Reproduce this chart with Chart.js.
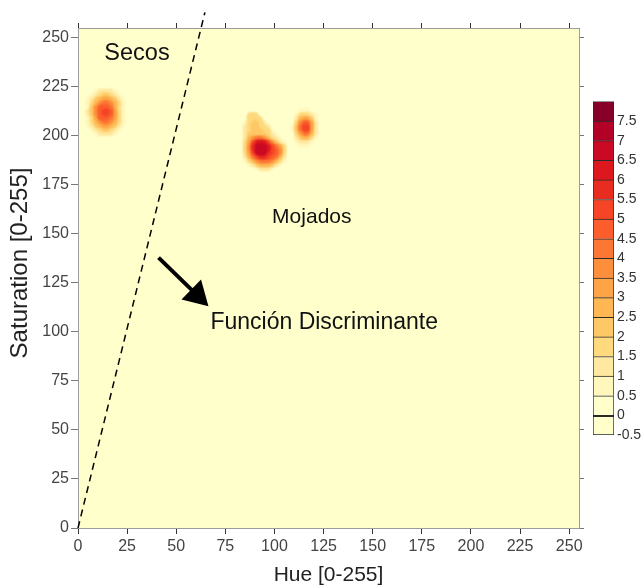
<!DOCTYPE html>
<html>
<head>
<meta charset="utf-8">
<script src="https://cdn.jsdelivr.net/npm/chart.js@4.4.1/dist/chart.umd.min.js"></script>
<style>
  html, body { margin: 0; padding: 0; background: #fff; }
  #wrap { position: relative; width: 641px; height: 588px; }
  #grafico { position: absolute; left: 0; top: 0; }
  #barra { position: absolute; left: 580px; top: 90px; }
</style>
</head>
<body>
<div id="wrap">
  <canvas id="grafico" width="641" height="588"></canvas>
  <canvas id="barra" width="61" height="360"></canvas>
</div>
<script>
// ticks
const hueTicks = [0, 25, 50, 75, 100, 125, 150, 175, 200, 225, 250];
const satTicks = [0, 25, 50, 75, 100, 125, 150, 175, 200, 225, 250];
const levels = [-0.5, 0, 0.5, 1, 1.5, 2, 2.5, 3, 3.5, 4, 4.5, 5, 5.5, 6, 6.5, 7, 7.5];

// densidad - mancha izquierda (secos)
const leftHue = [6, 8, 10, 12, 14, 16, 18, 20, 22];
const leftSat = [222, 220, 218, 216, 214, 212, 210, 208, 206, 204, 202];
const leftDensity = [
    [0, 0, 0.5, 1, 1, 1, 0.5, 0, 0],
    [0, 0.5, 1, 1.5, 2, 1.5, 1, 0.5, 0],
    [0.5, 1, 2, 2.5, 3, 2.5, 2, 1, 0.5],
    [0.5, 1.5, 2.5, 3.5, 4, 3.5, 2.5, 1.5, 0.5],
    [0.5, 2, 3.5, 4.5, 4.5, 4, 2.5, 1, 0.5],
    [1, 2, 3.5, 4.5, 5, 4.5, 3, 1.5, 0.5],
    [0.5, 1.5, 3, 4.5, 4.5, 4, 3, 1.5, 0.5],
    [0.5, 1.5, 2.5, 3.5, 4, 3.5, 2.5, 1.5, 0.5],
    [0.5, 1, 2, 2.5, 3, 2.5, 2, 1, 0.5],
    [0, 0.5, 1, 1.5, 2, 1.5, 1, 0.5, 0],
    [0, 0, 0.5, 1, 1, 1, 0.5, 0, 0]
];

// mancha central (mojados)
const midHue = [86, 88, 90, 92, 94, 96, 98, 100, 102, 104];
const midSat = [210, 208, 206, 204, 202, 200, 198, 196, 194, 192, 190, 188, 186, 184];
const midDensity = [
    [0, 1.5, 1.5, 0, 0, 0, 0, 0, 0, 0],
    [0, 1.5, 1.5, 1.5, 0, 0, 0, 0, 0, 0],
    [0.5, 1.5, 2, 1.5, 1, 0, 0, 0, 0, 0],
    [1, 1.5, 2, 1.5, 1.5, 1, 0, 0, 0, 0],
    [1, 1.5, 2, 2, 1.5, 1.5, 0.5, 0, 0, 0],
    [1, 2, 2, 2, 2, 1.5, 1, 0.5, 0, 0],
    [1, 2.5, 3.5, 4, 3.5, 2.5, 1.5, 1, 0.5, 0],
    [1.5, 3, 5, 6, 6, 5, 3.5, 2, 1, 0.5],
    [1.5, 3.5, 5.5, 6.5, 6.5, 6, 5, 4, 3, 1.5],
    [1.5, 3, 5, 6.5, 6.5, 5.5, 5, 4.5, 3.5, 1.5],
    [1, 2.5, 4, 5, 5.5, 5, 4.5, 4, 2.5, 1],
    [0.5, 1.5, 2.5, 3.5, 4, 4, 3.5, 2.5, 1.5, 0.5],
    [0, 0.5, 1, 2, 2.5, 2.5, 2, 1, 0.5, 0],
    [0, 0, 0, 0.5, 1, 1, 0.5, 0, 0, 0]
];

// mancha derecha
const rightHue = [110, 112, 114, 116, 118, 120];
const rightSat = [212, 210, 208, 206, 204, 202, 200, 198, 196];
const rightDensity = [
    [0, 0, 0.5, 0.5, 0, 0],
    [0, 0.5, 1.5, 1.5, 1, 0.5],
    [0, 1, 2.5, 3, 2, 0.5],
    [0, 1.5, 3.5, 4.5, 3, 1],
    [0.5, 2, 4, 5, 3, 1],
    [0, 1.5, 3, 4, 2.5, 1],
    [0, 1, 2, 2.5, 1.5, 0.5],
    [0, 0.5, 1, 1, 0.5, 0],
    [0, 0, 0.5, 0.5, 0, 0]
];

// funcion discriminante
const boundaryHue = [0, 64.6];
const boundarySat = [0, 263];

// colores de la barra (de -0.5 a 8)
const bandColors = [
    '#FFFFCC', '#FFFFCC', '#FFF7BC', '#FFE8A0', '#FED97E', '#FEC866',
    '#FEB752', '#FDA446', '#FD8F3C', '#FC7634', '#FB5E2C', '#F54526',
    '#E92C20', '#DC181E', '#CA0A24', '#B20026', '#86002A'
];

const fuente = '"Liberation Sans", Arial, sans-serif';
Chart.defaults.font.family = fuente;

function celdas(hues, sats, dens) {
    let pts = [];
    sats.forEach((s, i) => {
        hues.forEach((h, j) => {
            if (dens[i][j] > 0) pts.push({ x: h, y: s, v: dens[i][j] });
        });
    });
    return pts;
}

function banda(v) {
    let k = Math.floor(v * 2 + 1);
    return Math.max(0, Math.min(bandColors.length - 1, k));
}

// sprite suave para cada color
function sprite(hex, tam) {
    const c = document.createElement('canvas');
    c.width = tam;
    c.height = tam;
    const g = c.getContext('2d');
    const r = parseInt(hex.slice(1, 3), 16), gr = parseInt(hex.slice(3, 5), 16), b = parseInt(hex.slice(5, 7), 16);
    const m = tam / 2;
    const grad = g.createRadialGradient(m, m, 0, m, m, m);
    grad.addColorStop(0, `rgba(${r},${gr},${b},1)`);
    grad.addColorStop(0.5, `rgba(${r},${gr},${b},1)`);
    grad.addColorStop(1, `rgba(${r},${gr},${b},0)`);
    g.fillStyle = grad;
    g.fillRect(0, 0, tam, tam);
    return c;
}
const sprites = bandColors.map(c => sprite(c, 11));

let puntos = celdas(leftHue, leftSat, leftDensity)
    .concat(celdas(midHue, midSat, midDensity))
    .concat(celdas(rightHue, rightSat, rightDensity))
    .sort((a, b) => a.v - b.v);

const fondo = {
    id: 'fondo',
    beforeDraw(chart) {
        const { ctx, chartArea: a } = chart;
        ctx.save();
        ctx.fillStyle = '#FFFFCC';
        ctx.fillRect(a.left, a.top, a.right - a.left, a.bottom - a.top);
        ctx.restore();
    }
};

const anotaciones = {
    id: 'anotaciones',
    afterDraw(chart) {
        const { ctx, scales: { x, y } } = chart;
        ctx.save();
        ctx.fillStyle = '#111';
        ctx.textBaseline = 'alphabetic';
        ctx.font = '23.5px ' + fuente;
        ctx.fillText('Secos', x.getPixelForValue(13.4), y.getPixelForValue(238.7));
        ctx.font = '21px ' + fuente;
        ctx.fillText('Mojados', x.getPixelForValue(98.8), y.getPixelForValue(155.4));
        ctx.font = '23px ' + fuente;
        ctx.fillText('Función Discriminante', x.getPixelForValue(67.4), y.getPixelForValue(101.7));

        // flecha
        let x0 = x.getPixelForValue(41), y0 = y.getPixelForValue(137.9);
        let x1 = x.getPixelForValue(66.4), y1 = y.getPixelForValue(113.1);
        let ang = Math.atan2(y1 - y0, x1 - x0);
        let largo = 24, ancho = 14;
        let bx = x1 - largo * Math.cos(ang), by = y1 - largo * Math.sin(ang);
        ctx.strokeStyle = '#000';
        ctx.lineWidth = 4;
        ctx.beginPath();
        ctx.moveTo(x0, y0);
        ctx.lineTo(bx + 2 * Math.cos(ang), by + 2 * Math.sin(ang));
        ctx.stroke();
        ctx.fillStyle = '#000';
        ctx.beginPath();
        ctx.moveTo(x1, y1);
        ctx.lineTo(bx + ancho * Math.sin(ang), by - ancho * Math.cos(ang));
        ctx.lineTo(bx - ancho * Math.sin(ang), by + ancho * Math.cos(ang));
        ctx.closePath();
        ctx.fill();

        // titulo del eje y
        ctx.translate(20, (y.top + y.bottom) / 2 - 15);
        ctx.rotate(-Math.PI / 2);
        ctx.textAlign = 'center';
        ctx.textBaseline = 'middle';
        ctx.fillStyle = '#222';
        ctx.font = '24px ' + fuente;
        ctx.fillText('Saturation [0-255]', 0, 0);
        ctx.restore();
    }
};

function ejeLineal(extra) {
    return Object.assign({
        type: 'linear',
        min: 0,
        max: 255,
        grid: { drawOnChartArea: false, tickLength: 6, tickColor: '#333' },
        border: { color: '#9c9c9c', width: 1 },
        ticks: { display: false }
    }, extra);
}

new Chart(document.getElementById('grafico'), {
    type: 'scatter',
    data: {
        datasets: [
            {
                data: puntos,
                pointStyle: (c) => sprites[banda(c.raw ? c.raw.v : 0)],
                pointRadius: 3,
                pointHoverRadius: 3,
                borderWidth: 0
            },
            {
                data: boundaryHue.map((h, i) => ({ x: h, y: boundarySat[i] })),
                showLine: true,
                borderColor: '#000',
                borderWidth: 1.5,
                borderDash: [7, 5],
                pointRadius: 0,
                clip: false
            }
        ]
    },
    options: {
        responsive: false,
        animation: false,
        layout: { padding: 0 },
        plugins: { legend: { display: false }, tooltip: { enabled: false } },
        scales: {
            x: ejeLineal({
                position: 'bottom',
                afterBuildTicks: (s) => { s.ticks = hueTicks.map(v => ({ value: v })); },
                afterFit: (s) => { s.height = 60; },
                ticks: { display: true, autoSkip: false, maxRotation: 0, color: '#444', font: { size: 16 }, padding: 3 },
                title: { display: true, text: 'Hue [0-255]', color: '#222', font: { size: 21 }, padding: 0 }
            }),
            xTop: ejeLineal({
                position: 'top',
                afterBuildTicks: (s) => { s.ticks = hueTicks.map(v => ({ value: v })); },
                afterFit: (s) => { s.height = 28; },
                grid: { drawOnChartArea: false, tickLength: 5, tickColor: '#333' }
            }),
            y: ejeLineal({
                position: 'left',
                afterBuildTicks: (s) => { s.ticks = satTicks.map(v => ({ value: v })); },
                afterFit: (s) => { s.width = 78; },
                grid: { drawOnChartArea: false, tickLength: 7, tickColor: '#777' },
                ticks: { display: true, autoSkip: false, color: '#444', font: { size: 16 }, padding: 2 }
            }),
            yRight: ejeLineal({
                position: 'right',
                afterBuildTicks: (s) => { s.ticks = satTicks.map(v => ({ value: v })); },
                afterFit: (s) => { s.width = 62; },
                grid: { drawOnChartArea: false, tickLength: 5, tickColor: '#777' }
            })
        }
    },
    plugins: [fondo, anotaciones]
});

// barra de colores
new Chart(document.getElementById('barra'), {
    type: 'bar',
    data: {
        labels: [''],
        datasets: bandColors.map((c, i) => ({
            data: [[levels[i], levels[i] + 0.5]],
            backgroundColor: c,
            borderColor: '#2a2a2a',
            borderWidth: { top: i === 0 ? 2 : 1, left: 1, right: 1, bottom: i === 0 ? 1 : 0 },
            borderSkipped: false,
            barPercentage: 1,
            categoryPercentage: 1
        }))
    },
    options: {
        responsive: false,
        animation: false,
        layout: { padding: { left: 13, top: 11, bottom: 15, right: 0 } },
        plugins: { legend: { display: false }, tooltip: { enabled: false } },
        scales: {
            x: { stacked: true, display: false },
            y: {
                position: 'right',
                min: -0.5,
                max: 8,
                stacked: false,
                afterBuildTicks: (s) => { s.ticks = levels.map(v => ({ value: v })); },
                afterFit: (s) => { s.width = 27; },
                grid: { display: false, drawTicks: false },
                border: { display: false },
                ticks: { color: '#333', font: { size: 14 }, padding: 3, callback: (v) => String(v) }
            }
        }
    }
});
</script>
</body>
</html>
